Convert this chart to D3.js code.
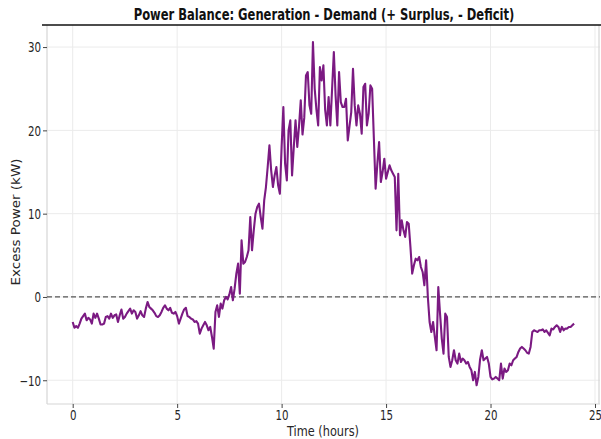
<!DOCTYPE html>
<html>
<head>
<meta charset="utf-8">
<script src="https://cdn.jsdelivr.net/npm/d3@7"></script>
<style>
  body { margin: 0; background: #fff; }
  svg { display: block; font-family: "DejaVu Sans", sans-serif; }
</style>
</head>
<body>
<svg id="chart" width="601" height="439"></svg>
<script>
// Labels and axis settings
const titleText = "Power Balance: Generation - Demand (+ Surplus, - Deficit)";
const xLabel = "Time (hours)";
const yLabel = "Excess Power (kW)";
const xTicks = [0, 5, 10, 15, 20, 25];
const yTicks = [-10, 0, 10, 20, 30];
const xDomain = [-1.23, 25.24];
const yDomain = [-12.85, 32.65];

// Sampling interval of the power balance series
const stepMinutes = 5;

// Generation minus demand (kW), one row per hour, 5-minute samples
const excessKW = [
  -3.0, -3.7, -3.5, -3.7, -3.2, -2.6, -2.3, -2.0, -2.8, -2.5, -2.7, -3.2,
  -2.0, -2.5, -2.0, -2.6, -3.3, -3.3, -3.2, -2.4, -2.3, -2.6, -2.0, -2.5,
  -2.2, -2.1, -3.0, -2.2, -1.5, -2.6, -2.4, -2.0, -1.7, -1.4, -2.0, -1.6,
  -1.8, -2.6, -2.2, -1.7, -2.2, -2.4, -1.4, -0.6, -1.2, -1.4, -1.6, -1.9,
  -2.3, -2.4, -2.2, -1.8, -1.3, -1.0, -1.4, -1.6, -1.3, -1.9, -2.0, -1.8,
  -2.3, -3.2, -2.6, -2.0, -1.5, -1.3, -2.3, -2.4, -2.6, -2.7, -3.0, -2.9,
  -3.2, -4.4, -3.8, -3.4, -3.0, -3.4, -4.0, -3.6, -4.8, -6.2, -1.8, -1.0,
  -2.4, -0.8, -1.4, -0.4, 0.0, -0.3, 0.3, 1.2, -0.4, 1.0, 2.8, 4.0,
  0.4, 6.8, 4.0, 4.2, 4.8, 5.6, 9.6, 5.6, 8.0, 10.0, 10.8, 11.2,
  9.6, 8.2, 11.6, 13.2, 15.6, 18.2, 15.2, 13.2, 14.6, 15.6, 13.4, 12.4,
  18.0, 22.8, 16.0, 14.0, 20.0, 21.2, 14.6, 18.0, 21.2, 18.0, 20.5, 23.6,
  19.5, 21.5, 26.6, 27.0, 23.0, 22.0, 30.6, 25.0, 22.5, 20.6, 27.6, 26.0,
  27.8, 22.5, 20.6, 24.0, 20.6, 25.0, 29.4, 24.2, 20.6, 27.0, 23.4, 22.8,
  22.8, 23.8, 18.8, 20.5, 22.2, 27.4, 23.0, 20.6, 23.0, 22.0, 19.6, 25.2,
  25.6, 20.6, 22.0, 25.4, 25.0, 19.0, 13.0, 16.0, 18.6, 13.8, 15.0, 16.6,
  14.2, 15.0, 15.8, 15.2, 14.8, 14.4, 8.0, 14.8, 7.4, 9.2, 8.0, 7.2,
  9.0, 8.8, 6.0, 2.8, 3.8, 4.6, 4.4, 4.8, 3.6, 3.0, 1.4, 4.4,
  0.0, -3.0, -4.2, -3.0, -4.8, -6.4, 1.2, -2.0, -5.0, -6.8, -2.0, -2.4,
  -7.2, -8.4, -7.6, -6.4, -7.6, -8.0, -6.8, -7.8, -7.4, -7.6, -8.0, -7.8,
  -8.4, -8.8, -10.0, -9.0, -10.6, -9.6, -7.5, -6.4, -7.6, -7.4, -7.2, -8.0,
  -9.6, -9.9, -9.8, -9.6, -9.8, -10.0, -8.0, -9.8, -8.6, -9.0, -8.8, -8.0,
  -8.2, -7.6, -7.4, -7.2, -6.6, -6.2, -6.0, -6.2, -6.4, -6.7, -6.8, -6.0,
  -4.2, -4.0, -4.1, -4.2, -4.0, -4.0, -3.9, -4.2, -4.0, -4.3, -4.6, -3.8,
  -3.9, -3.6, -3.4, -3.6, -4.2, -3.6, -4.0, -3.8, -3.8, -3.6, -3.6, -3.4,
  -3.2
];

const series = excessKW.map((v, i) => ({ t: i * stepMinutes / 60, v }));

const svg = d3.select("#chart");
const plot = { left: 47, right: 600, top: 25, bottom: 404 };
const squeeze = 0.76; // narrow glyph width used for the labels

svg.append("rect").attr("width", 601).attr("height", 439).attr("fill", "#fff");

const x = d3.scaleLinear().domain(xDomain).range([plot.left, plot.right]);
const y = d3.scaleLinear().domain(yDomain).range([plot.bottom, plot.top]);

// Grid
const grid = svg.append("g").attr("stroke", "#ebebeb").attr("stroke-width", 1);
grid.selectAll(".gx").data(xTicks).join("line")
  .attr("x1", d => x(d)).attr("x2", d => x(d))
  .attr("y1", plot.top).attr("y2", plot.bottom);
grid.selectAll(".gy").data(yTicks).join("line")
  .attr("x1", plot.left).attr("x2", plot.right)
  .attr("y1", d => y(d)).attr("y2", d => y(d));

// Frame
const frame = svg.append("g").attr("fill", "none");
frame.append("line").attr("x1", plot.left).attr("x2", plot.left)
  .attr("y1", plot.top).attr("y2", plot.bottom).attr("stroke", "#d6d6d6").attr("stroke-width", 1.2);
frame.append("line").attr("x1", plot.left).attr("x2", plot.right)
  .attr("y1", plot.bottom).attr("y2", plot.bottom).attr("stroke", "#d6d6d6").attr("stroke-width", 1.2);
frame.append("line").attr("x1", plot.right - 1).attr("x2", plot.right - 1)
  .attr("y1", plot.top).attr("y2", plot.bottom).attr("stroke", "#d6d6d6").attr("stroke-width", 1.2);
frame.append("line").attr("x1", 42).attr("x2", 601)
  .attr("y1", plot.top).attr("y2", plot.top).attr("stroke", "#111").attr("stroke-width", 1.5);

// Axes
const axisY = svg.append("g").attr("transform", `translate(${plot.left},0)`)
  .call(d3.axisLeft(y).tickValues(yTicks).tickSize(4).tickPadding(3));
const axisX = svg.append("g").attr("transform", `translate(0,${plot.bottom})`)
  .call(d3.axisBottom(x).tickValues(xTicks).tickSize(4).tickPadding(3));
[axisY, axisX].forEach(a => {
  a.select(".domain").remove();
  a.selectAll(".tick line").attr("stroke", "#444");
  a.selectAll(".tick text").attr("fill", "#262626").attr("font-size", 13.5)
    .attr("font-family", "DejaVu Sans, sans-serif");
});
axisY.selectAll(".tick text").attr("x", -6 / squeeze).attr("dy", "0.36em")
  .attr("transform", `scale(${squeeze},1)`);
axisX.selectAll(".tick text").attr("y", 16).attr("dy", 0)
  .attr("transform", `scale(${squeeze},1)`);

// Zero reference line
svg.append("line")
  .attr("x1", plot.left).attr("x2", plot.right)
  .attr("y1", y(0)).attr("y2", y(0))
  .attr("stroke", "#555").attr("stroke-width", 1.3).attr("stroke-dasharray", "5,3");

// Power balance line
svg.append("path").datum(series)
  .attr("fill", "none").attr("stroke", "#7b1a82").attr("stroke-width", 2.1)
  .attr("stroke-linejoin", "round")
  .attr("d", d3.line().x(d => x(d.t)).y(d => y(d.v)));

// Title (drawn at natural width, then narrowed horizontally) and axis labels
svg.append("text").attr("transform", "translate(324,20) scale(0.77,1)")
  .attr("text-anchor", "middle")
  .attr("font-size", 15).attr("font-weight", "bold").attr("fill", "#111")
  .text(titleText);
svg.append("text").attr("transform", `translate(323,436) scale(${squeeze + 0.08},1)`)
  .attr("text-anchor", "middle").attr("font-size", 13.5).attr("fill", "#262626")
  .text(xLabel);
svg.append("text").attr("transform", `translate(20,222) rotate(-90) scale(1,0.85)`)
  .attr("text-anchor", "middle").attr("font-size", 13.5).attr("fill", "#262626")
  .text(yLabel);
</script>
</body>
</html>
